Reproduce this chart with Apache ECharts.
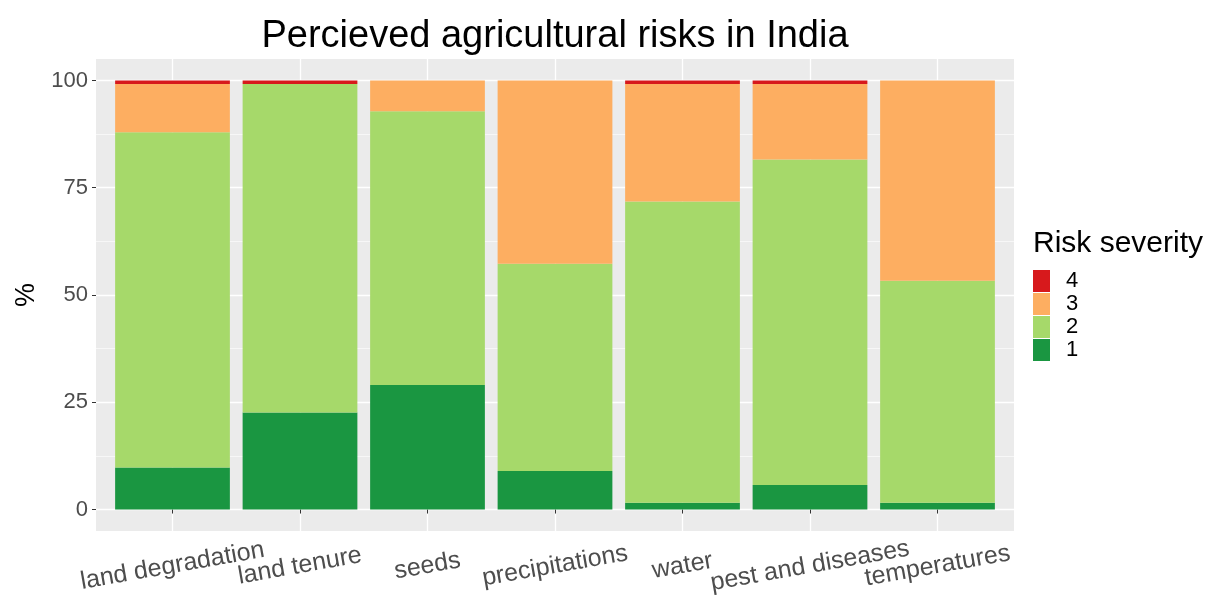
<!DOCTYPE html>
<html>
<head>
<meta charset="utf-8">
<script src="https://cdn.jsdelivr.net/npm/echarts@6/dist/echarts.min.js"></script>
<style>html,body{margin:0;padding:0;background:#fff}#chart{width:1211px;height:599px}</style>
</head>
<body>
<div id="chart"></div>
<script>
const categories = ['land degradation','land tenure','seeds','precipitations','water','pest and diseases','temperatures'];
const severity1 = [9.8, 22.6, 29.0, 9.0, 1.6, 5.7, 1.6];
const severity2 = [78.1, 76.6, 63.8, 48.3, 70.2, 75.9, 51.7];
const severity3 = [11.3, 0, 7.2, 42.7, 27.4, 17.6, 46.7];
const severity4 = [0.8, 0.8, 0, 0, 0.8, 0.8, 0];
const yTicks = [0, 25, 50, 75, 100];
const yMinorTicks = [12.5, 37.5, 62.5, 87.5];
const colors = {'1':'#1A9641','2':'#A6D96A','3':'#FDAE61','4':'#D7191C'};
const FONT = 'Liberation Sans, Arial, sans-serif';

// panel geometry (ggplot discrete expansion 0.6 each side)
const PL = 96, PR = 197, PT = 59, PB = 68, W = 1211;
const unit = (W - PL - PR) / (categories.length + 0.2);
const xPos = categories.map((c, i) => i + 1);

function mk(name, vals) {
  return {
    name: name, type: 'bar', stack: 'total', barWidth: '90%',
    xAxisIndex: 1, yAxisIndex: 2,
    itemStyle: {color: colors[name]},
    data: vals
  };
}

const chart = echarts.init(document.getElementById('chart'));
chart.setOption({
  animation: false,
  grid: [
    {left: PL, right: PR, top: PT, bottom: PB, show: true, backgroundColor: '#EBEBEB', borderWidth: 0, containLabel: false, outerBoundsMode: 'none'},
    {left: PL + 0.1 * unit, right: PR + 0.1 * unit, top: PT, bottom: PB, show: false, containLabel: false, outerBoundsMode: 'none'}
  ],
  xAxis: [{
    gridIndex: 0, type: 'value', min: 0.4, max: 7.6,
    axisLine: {show: false},
    axisTick: {show: true, customValues: xPos, length: 4, lineStyle: {color: '#333333', width: 1}},
    axisLabel: {show: false, customValues: xPos},
    splitLine: {show: true, lineStyle: {color: '#FFFFFF', width: 1.3}}
  }, {
    gridIndex: 1, type: 'category', data: categories, show: true,
    axisLine: {show: false}, axisTick: {show: false}, splitLine: {show: false},
    axisLabel: {interval: 0, hideOverlap: false, rotate: 10, align: 'center', verticalAlign: 'middle',
      margin: 35, fontSize: 25, color: '#4D4D4D', fontFamily: FONT}
  }],
  yAxis: [{
    gridIndex: 0, type: 'value', min: -5, max: 105,
    name: '%', nameLocation: 'middle', nameGap: 43, nameRotate: 90,
    nameTextStyle: {fontSize: 27, color: '#000', fontFamily: FONT},
    axisLine: {show: false},
    axisTick: {show: true, customValues: yTicks, length: 4, lineStyle: {color: '#333333', width: 1}},
    axisLabel: {customValues: yTicks, fontSize: 22, color: '#4D4D4D', margin: 8, fontFamily: FONT},
    splitLine: {show: true, lineStyle: {color: '#FFFFFF', width: 1.3}}
  }, {
    gridIndex: 0, type: 'value', min: -5, max: 105, position: 'left',
    axisLine: {show: false},
    axisTick: {show: false, customValues: yMinorTicks},
    axisLabel: {show: false, customValues: yMinorTicks},
    splitLine: {show: true, lineStyle: {color: '#FFFFFF', width: 0.6}}
  }, {
    gridIndex: 1, type: 'value', min: -5, max: 105, show: false, splitLine: {show: false}
  }],
  legend: {
    orient: 'vertical', left: 1033, top: 270, padding: 0, itemWidth: 17, itemHeight: 22, itemGap: 1,
    icon: 'rect', data: ['4','3','2','1'],
    textStyle: {fontSize: 22, color: '#000', fontFamily: FONT, padding: [0,0,0,11]}
  },
  graphic: [
    {type: 'text', left: 1033, top: 229, style: {text: 'Risk severity', fontSize: 30, fill: '#000', fontFamily: FONT}},
    {type: 'text', x: 555, y: 18, style: {text: 'Percieved agricultural risks in India', fontSize: 38, fill: '#000', fontFamily: FONT, textAlign: 'center', textVerticalAlign: 'top'}}
  ],
  series: [mk('1', severity1), mk('2', severity2), mk('3', severity3), mk('4', severity4)]
});
</script>
</body>
</html>
